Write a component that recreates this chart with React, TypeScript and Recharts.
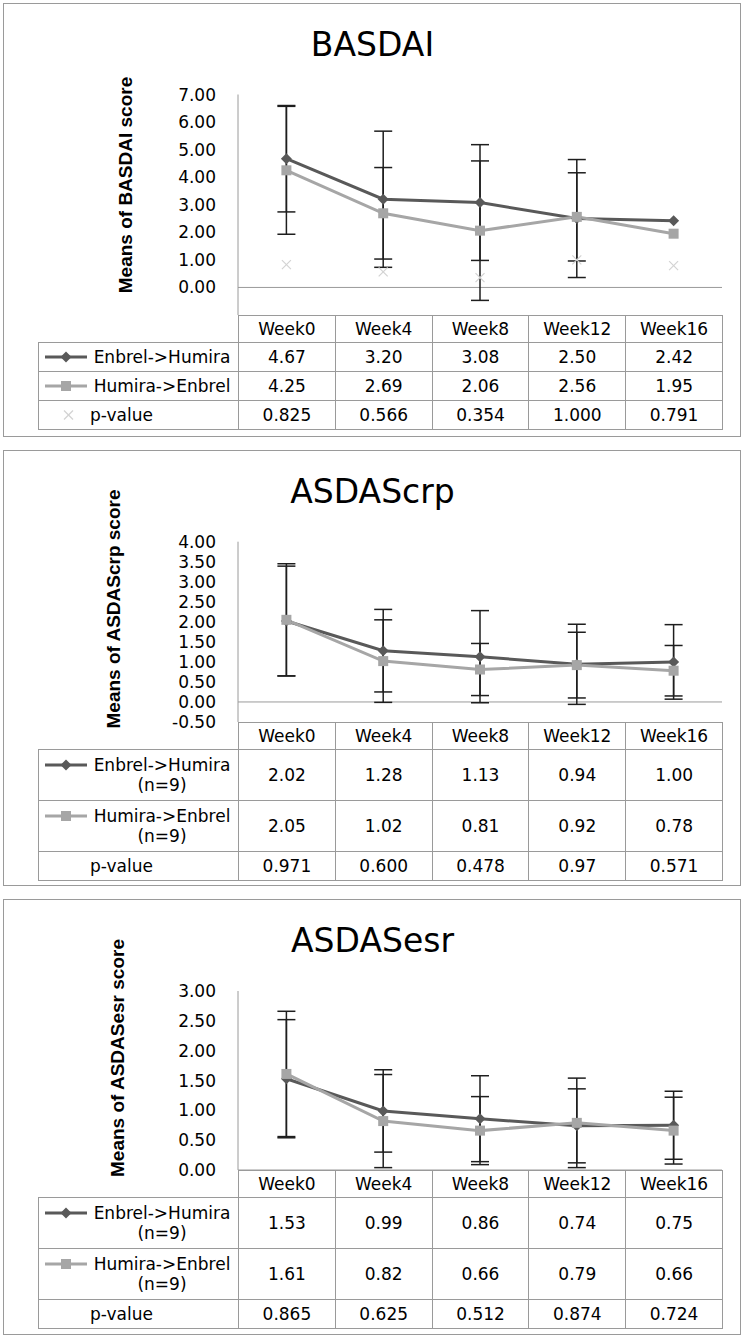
import React from 'react';
import { ComposedChart, Line, XAxis, YAxis, ErrorBar, ReferenceLine } from 'recharts';

const weeks = ['Week0', 'Week4', 'Week8', 'Week12', 'Week16'];

// BASDAI
const basdaiEnbrel = [4.67, 3.2, 3.08, 2.5, 2.42];
const basdaiEnbrelSd = [1.93, 2.47, 2.1, 2.14, null];
const basdaiHumira = [4.25, 2.69, 2.06, 2.56, 1.95];
const basdaiHumiraSd = [2.32, 1.66, 2.53, 1.6, null];
const basdaiP = ['0.825', '0.566', '0.354', '1.000', '0.791'];
const basdaiTicks = [0, 1, 2, 3, 4, 5, 6, 7];

// ASDAScrp
const crpEnbrel = [2.02, 1.28, 1.13, 0.94, 1.0];
const crpEnbrelSd = [1.37, 1.03, 1.15, 1.0, 0.93];
const crpHumira = [2.05, 1.02, 0.81, 0.92, 0.78];
const crpHumiraSd = [1.4, 1.03, 0.65, 0.82, 0.63];
const crpP = ['0.971', '0.600', '0.478', '0.97', '0.571'];
const crpTicks = [-0.5, 0, 0.5, 1, 1.5, 2, 2.5, 3, 3.5, 4];

// ASDASesr
const esrEnbrel = [1.53, 0.99, 0.86, 0.74, 0.75];
const esrEnbrelSd = [0.99, 0.69, 0.72, 0.62, 0.57];
const esrHumira = [1.61, 0.82, 0.66, 0.79, 0.66];
const esrHumiraSd = [1.05, 0.78, 0.57, 0.75, 0.56];
const esrP = ['0.865', '0.625', '0.512', '0.874', '0.724'];
const esrTicks = [0, 0.5, 1, 1.5, 2, 2.5, 3];

const DARK = '#595959';
const LIGHT = '#a6a6a6';
const PCOL = '#d3d3d3';
const AXIS = '#9a9a9a';
const FONT = '"DejaVu Sans", sans-serif';

const PLOT_L = 238;
const PLOT_R = 722;
const TABLE_L = 38;
const YAXIS_W = 60;
const EXTRA = 16; // room below the plot so the lowest tick label is not clipped

const renderDiamond = (props: any) => {
  const { cx, cy, index } = props;
  if (cx == null || cy == null) return <g key={index} />;
  const r = 5.5;
  return <path key={index} d={`M${cx},${cy - r}L${cx + r},${cy}L${cx},${cy + r}L${cx - r},${cy}Z`} fill={DARK} />;
};

const renderSquare = (props: any) => {
  const { cx, cy, index } = props;
  if (cx == null || cy == null) return <g key={index} />;
  return <rect key={index} x={cx - 5} y={cy - 5} width={10} height={10} fill={LIGHT} />;
};

const renderCross = (props: any) => {
  const { cx, cy, index } = props;
  if (cx == null || cy == null) return <g key={index} />;
  const r = 4.5;
  return (
    <g key={index} stroke={PCOL} strokeWidth={1.2}>
      <line x1={cx - r} y1={cy - r} x2={cx + r} y2={cy + r} />
      <line x1={cx - r} y1={cy + r} x2={cx + r} y2={cy - r} />
    </g>
  );
};

function Marker({ kind }: { kind: 'diamond' | 'square' | 'cross' | 'none' }) {
  return (
    <svg width={44} height={20} style={{ display: 'block', flex: 'none' }}>
      {kind === 'diamond' && (
        <>
          <line x1={1} y1={10} x2={43} y2={10} stroke={DARK} strokeWidth={3} />
          <path d="M22,4.5L27.5,10L22,15.5L16.5,10Z" fill={DARK} />
        </>
      )}
      {kind === 'square' && (
        <>
          <line x1={1} y1={10} x2={43} y2={10} stroke={LIGHT} strokeWidth={3} />
          <rect x={17} y={5} width={10} height={10} fill={LIGHT} />
        </>
      )}
      {kind === 'cross' && (
        <g stroke={PCOL} strokeWidth={1.2}>
          <line x1={20} y1={5.5} x2={29} y2={14.5} />
          <line x1={20} y1={14.5} x2={29} y2={5.5} />
        </g>
      )}
    </svg>
  );
}

const cellBorder = { border: `1px solid ${AXIS}`, padding: 0 };

function LabelCell({ lines, kind, align, h }: any) {
  return (
    <td style={{ ...cellBorder, height: h, verticalAlign: 'middle' }}>
      <div style={{ display: 'flex', alignItems: 'flex-start', paddingLeft: 5 }}>
        <Marker kind={kind} />
        <div style={{ width: 144, marginLeft: 2, textAlign: align, lineHeight: '20px' }}>
          {lines.map((l: string) => (
            <div key={l} style={{ whiteSpace: 'nowrap' }}>{l}</div>
          ))}
        </div>
      </div>
    </td>
  );
}

function Panel(cfg: any) {
  const {
    top, bottom, plotTop, tableTop, title, yLabel, yLabelX, yLabelY,
    domain, ticks, enbrel, enbrelSd, humira, humiraSd, p, showP, rows, withN,
  } = cfg;

  const data = weeks.map((w, i) => ({
    week: w,
    enbrel: enbrel[i],
    enbrelSd: enbrelSd[i],
    humira: humira[i],
    humiraSd: humiraSd[i],
    p: showP ? Number(p[i]) : null,
  }));

  const colW = (PLOT_R - PLOT_L) / weeks.length;

  return (
    <>
      <div
        style={{
          position: 'absolute', left: 3, top, width: 738, height: bottom - top,
          border: `1px solid ${AXIS}`, boxSizing: 'border-box',
        }}
      />
      <div
        style={{
          position: 'absolute', left: 0, top: top + 25, width: 745, textAlign: 'center',
          fontFamily: FONT, fontSize: 33, lineHeight: '33px', color: '#000',
        }}
      >
        {title}
      </div>
      <div
        style={{
          position: 'absolute', left: yLabelX, top: yLabelY, whiteSpace: 'nowrap',
          transform: 'translate(-50%, -50%) rotate(-90deg)',
          fontFamily: '"Liberation Sans", Arial, sans-serif', fontWeight: 'bold', fontSize: 19,
          lineHeight: '19px', color: '#000',
        }}
      >
        {yLabel}
      </div>
      <div style={{ position: 'absolute', left: 0, top }}>
        <ComposedChart
          width={745}
          height={tableTop - top + EXTRA}
          data={data}
          margin={{ top: plotTop - top, right: 745 - PLOT_R, bottom: EXTRA, left: PLOT_L - YAXIS_W }}
        >
          <XAxis dataKey="week" hide scale="band" />
          <YAxis
            width={YAXIS_W}
            type="number"
            domain={domain}
            ticks={ticks}
            interval={0}
            allowDataOverflow
            tickLine={false}
            tickMargin={16}
            axisLine={{ stroke: AXIS, strokeWidth: 1 }}
            tickFormatter={(v: number) => v.toFixed(2)}
            tick={{ fontFamily: FONT, fontSize: 17, fill: '#000' }}
          />
          <ReferenceLine y={0} stroke={AXIS} strokeWidth={1} />
          {showP && (
            <Line
              dataKey="p"
              stroke="none"
              dot={renderCross}
              activeDot={false}
              isAnimationActive={false}
            />
          )}
          <Line
            dataKey="enbrel"
            type="linear"
            stroke={DARK}
            strokeWidth={3}
            dot={renderDiamond}
            activeDot={false}
            isAnimationActive={false}
          >
            <ErrorBar dataKey="enbrelSd" width={9} strokeWidth={1.5} stroke="#1e1e1e" direction="y" isAnimationActive={false} />
          </Line>
          <Line
            dataKey="humira"
            type="linear"
            stroke={LIGHT}
            strokeWidth={3}
            dot={renderSquare}
            activeDot={false}
            isAnimationActive={false}
          >
            <ErrorBar dataKey="humiraSd" width={9} strokeWidth={1.5} stroke="#1e1e1e" direction="y" isAnimationActive={false} />
          </Line>
        </ComposedChart>
      </div>
      <table
        style={{
          position: 'absolute', left: TABLE_L, top: tableTop, width: PLOT_R - TABLE_L,
          borderCollapse: 'collapse', tableLayout: 'fixed',
          fontFamily: FONT, fontSize: 17, color: '#000', textAlign: 'center',
        }}
      >
        <colgroup>
          <col style={{ width: PLOT_L - TABLE_L }} />
          {weeks.map((w) => <col key={w} style={{ width: colW }} />)}
        </colgroup>
        <tbody>
          <tr style={{ height: rows[0] }}>
            <td style={{ border: 'none', padding: 0 }} />
            {weeks.map((w) => <td key={w} style={{ ...cellBorder, background: '#fff' }}>{w}</td>)}
          </tr>
          <tr style={{ height: rows[1] }}>
            <LabelCell lines={withN ? ['Enbrel->Humira', '(n=9)'] : ['Enbrel->Humira']} kind="diamond" align="center" h={rows[1]} />
            {enbrel.map((v: number, i: number) => <td key={i} style={cellBorder}>{v.toFixed(2)}</td>)}
          </tr>
          <tr style={{ height: rows[2] }}>
            <LabelCell lines={withN ? ['Humira->Enbrel', '(n=9)'] : ['Humira->Enbrel']} kind="square" align="center" h={rows[2]} />
            {humira.map((v: number, i: number) => <td key={i} style={cellBorder}>{v.toFixed(2)}</td>)}
          </tr>
          <tr style={{ height: rows[3] }}>
            <LabelCell lines={['p-value']} kind={showP ? 'cross' : 'none'} align="left" h={rows[3]} />
            {p.map((v: string, i: number) => <td key={i} style={cellBorder}>{v}</td>)}
          </tr>
        </tbody>
      </table>
    </>
  );
}

export default function App() {
  return (
    <div style={{ position: 'absolute', left: 0, top: 0, width: 745, height: 1339, background: '#fff', overflow: 'hidden' }}>
      <Panel
        top={3} bottom={437} plotTop={94.5} tableTop={315}
        title="BASDAI" yLabel="Means of BASDAI score" yLabelX={125} yLabelY={185}
        domain={[-1, 7]} ticks={basdaiTicks}
        enbrel={basdaiEnbrel} enbrelSd={basdaiEnbrelSd}
        humira={basdaiHumira} humiraSd={basdaiHumiraSd}
        p={basdaiP} showP rows={[27, 28, 28, 28]} withN={false}
      />
      <Panel
        top={450} bottom={886} plotTop={541.7} tableTop={722}
        title="ASDAScrp" yLabel="Means of ASDAScrp score" yLabelX={113} yLabelY={609}
        domain={[-0.5, 4]} ticks={crpTicks}
        enbrel={crpEnbrel} enbrelSd={crpEnbrelSd}
        humira={crpHumira} humiraSd={crpHumiraSd}
        p={crpP} showP={false} rows={[27, 50, 50, 28]} withN
      />
      <Panel
        top={899} bottom={1335} plotTop={991} tableTop={1170}
        title="ASDASesr" yLabel="Means of ASDASesr score" yLabelX={117} yLabelY={1058}
        domain={[0, 3]} ticks={esrTicks}
        enbrel={esrEnbrel} enbrelSd={esrEnbrelSd}
        humira={esrHumira} humiraSd={esrHumiraSd}
        p={esrP} showP={false} rows={[27, 50, 50, 28]} withN
      />
    </div>
  );
}
